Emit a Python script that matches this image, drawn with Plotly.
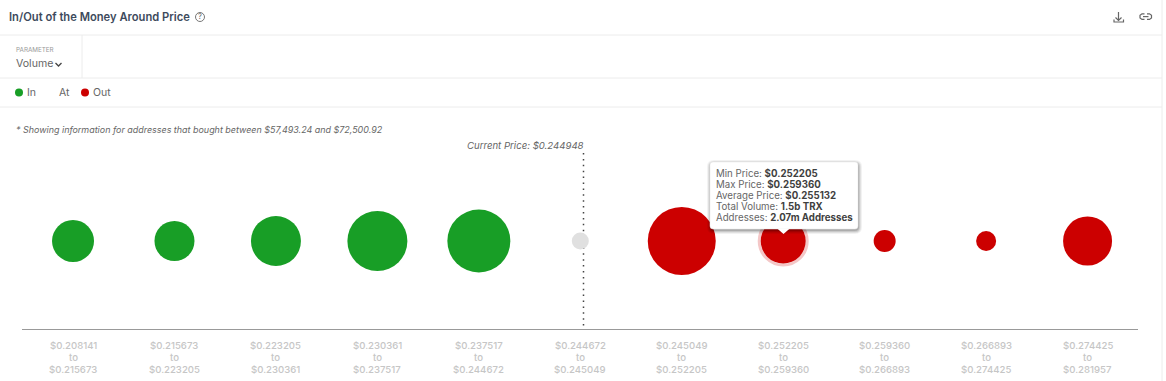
import plotly.graph_objects as go

W, H = 1166, 381

range_from = ["$0.208141", "$0.215673", "$0.223205", "$0.230361", "$0.237517", "$0.244672",
              "$0.245049", "$0.252205", "$0.259360", "$0.266893", "$0.274425"]
range_to = ["$0.215673", "$0.223205", "$0.230361", "$0.237517", "$0.244672", "$0.245049",
            "$0.252205", "$0.259360", "$0.266893", "$0.274425", "$0.281957"]
categories = [a + " to " + b for a, b in zip(range_from, range_to)]

in_cats = categories[:5]
in_volume = [42, 40, 50, 60, 63]
at_cats = categories[5:6]
at_volume = [17]
out_cats = categories[6:]
out_volume = [68, 45, 22, 20, 49]
active_cat = categories[7]

tooltip_rows = [("Min Price: ", "$0.252205"), ("Max Price: ", "$0.259360"),
                ("Average Price: ", "$0.255132"), ("Total Volume: ", "1.5b TRX"),
                ("Addresses: ", "2.07m Addresses")]

GREEN, RED, GREY = "#189e26", "#cc0000", "#e0e0e0"
RULE = "#ececec"
FONT = "Inter"


def fx(x):
    return x / W


def fy(y):
    return 1 - y / H


def path(points, close=False):
    d = " ".join(("M" if i == 0 else "L") + f"{fx(x):.5f},{fy(y):.5f}" for i, (x, y) in enumerate(points))
    return d + (" Z" if close else "")


def rrect(x0, y0, x1, y1, r):
    return (f"M{fx(x0+r):.5f},{fy(y0):.5f} L{fx(x1-r):.5f},{fy(y0):.5f} "
            f"Q{fx(x1):.5f},{fy(y0):.5f} {fx(x1):.5f},{fy(y0+r):.5f} "
            f"L{fx(x1):.5f},{fy(y1-r):.5f} Q{fx(x1):.5f},{fy(y1):.5f} {fx(x1-r):.5f},{fy(y1):.5f} "
            f"L{fx(x0+r):.5f},{fy(y1):.5f} Q{fx(x0):.5f},{fy(y1):.5f} {fx(x0):.5f},{fy(y1-r):.5f} "
            f"L{fx(x0):.5f},{fy(y0+r):.5f} Q{fx(x0):.5f},{fy(y0):.5f} {fx(x0+r):.5f},{fy(y0):.5f} Z")


shapes, annotations = [], []


def line(x0, y0, x1, y1, color=RULE, width=1):
    shapes.append(dict(type="line", xref="paper", yref="paper", x0=fx(x0), y0=fy(y0), x1=fx(x1), y1=fy(y1),
                       line=dict(color=color, width=width), layer="below"))


def stroke(points, color="#666", width=1.2):
    shapes.append(dict(type="path", xref="paper", yref="paper", path=path(points),
                       line=dict(color=color, width=width), layer="above"))


def circle(cx, cy, r, fill, edge=None, width=0):
    shapes.append(dict(type="circle", xref="paper", yref="paper", x0=fx(cx-r), x1=fx(cx+r), y0=fy(cy+r), y1=fy(cy-r),
                       fillcolor=fill, line=dict(color=edge or "rgba(0,0,0,0)", width=width), layer="above"))


def label(x, y, text, size=11, color="#555", anchor="left", weight=None, style=None):
    font = dict(family=FONT, size=size, color=color)
    if weight:
        font["weight"] = weight
    if style:
        font["style"] = style
    annotations.append(dict(xref="paper", yref="paper", x=fx(x), y=fy(y), text=text,
                            showarrow=False, xanchor=anchor, yanchor="middle", borderpad=0, font=font))


# panel rules
line(0, 35, 1162, 35)
line(0, 78, 1162, 78)
line(0, 107, 1162, 107)
line(82, 35, 82, 78)
line(1162, 0, 1162, 381)

# header
label(8, 17, "In/Out of the Money Around Price", size=11.2, color="#3d4a5c", weight=600)
circle(200, 17, 4.5, "rgba(0,0,0,0)", "#777", 1)
label(200, 17, "?", size=7.5, color="#666", anchor="center")

# download icon
stroke([(1118.5, 12), (1118.5, 20)])
stroke([(1115.5, 17.5), (1118.5, 20.5), (1121.5, 17.5)])
stroke([(1114, 19.5), (1114, 22), (1123.5, 22), (1123.5, 19.5)])
# link icon
stroke([(1144.5, 13.8), (1142, 13.8), (1140, 15.2), (1140, 18), (1142, 19.4), (1144.5, 19.4)])
stroke([(1147, 13.8), (1149.5, 13.8), (1151.5, 15.2), (1151.5, 18), (1149.5, 19.4), (1147, 19.4)])
stroke([(1143, 16.6), (1148.5, 16.6)])

# parameter selector
label(15, 49.5, "PARAMETER", size=6.3, color="#999")
label(15, 63.5, "Volume", size=10.6, color="#666")
stroke([(55.5, 63), (58.5, 66), (61.5, 63)], color="#444", width=1.3)

# legend
circle(19, 92.5, 4, GREEN)
label(25.5, 92.5, "In", size=10.5, color="#666")
label(58, 92.5, "At", size=10.5, color="#666")
circle(85, 92.5, 4, RED)
label(91.5, 92.5, "Out", size=10.5, color="#666")

# note
label(15, 129, "* Showing information for addresses that bought between $57,493.24 and $72,500.92",
      size=8.95, color="#666", style="italic")

# current price
label(585, 145, "Current Price: $0.244948", size=9.6, color="#666", anchor="right", style="italic")
shapes.append(dict(type="line", xref="paper", yref="paper", x0=fx(583.5), x1=fx(583.5), y0=fy(153), y1=fy(329),
                   line=dict(color="#444", width=1.5, dash="1.5px,4.4px"), layer="below"))

# tooltip
for off, alpha in [(4, .05), (3, .07), (2, .10), (1, .14)]:
    shapes.append(dict(type="path", xref="paper", yref="paper", layer="above",
                       path=rrect(710 - off + 1, 162 - off + 2, 858 + off, 229 + off + 1, 3 + off),
                       fillcolor=f"rgba(0,0,0,{alpha})", line=dict(width=0)))
shapes.append(dict(type="path", xref="paper", yref="paper", layer="above", path=rrect(710, 162, 858, 229, 3),
                   fillcolor="#ffffff", line=dict(color="#e6e6e6", width=0.5)))
shapes.append(dict(type="path", xref="paper", yref="paper", layer="above",
                   path=path([(777.5, 228.8), (783.5, 234), (789.5, 228.8)], close=True),
                   fillcolor="#ffffff", line=dict(width=0)))
for i, (k, v) in enumerate(tooltip_rows):
    label(715, 173.5 + i * 11, f'{k}<b><span style="color:#3f3f3f">{v}</span></b>', size=9.7, color="#666")

# range labels below the axis, placed on the category axis
for c, a, b in zip(categories, range_from, range_to):
    for y, t in ((345, a), (357, "to"), (369, b)):
        annotations.append(dict(xref="x", yref="paper", x=c, y=fy(y), text=t, showarrow=False,
                                xanchor="center", yanchor="middle", borderpad=0,
                                font=dict(family=FONT, size=9.6, color="#c6c6c6", weight=500)))

fig = go.Figure()
fig.add_trace(go.Scatter(x=[active_cat], y=[0], mode="markers", showlegend=False, hoverinfo="skip",
                         marker=dict(size=48, color="rgba(0,0,0,0)", opacity=1,
                                     line=dict(color="rgba(204,0,0,0.22)", width=3))))
for name, xs, vals, col in (("In", in_cats, in_volume, GREEN), ("At", at_cats, at_volume, GREY),
                            ("Out", out_cats, out_volume, RED)):
    fig.add_trace(go.Scatter(x=xs, y=[0] * len(xs), mode="markers", name=name, showlegend=False,
                             marker=dict(size=vals, sizemode="diameter", color=col, opacity=1, line=dict(width=0))))

fig.update_layout(
    width=W, height=H, autosize=False, margin=dict(l=0, r=0, t=0, b=0),
    paper_bgcolor="#ffffff", plot_bgcolor="#ffffff", showlegend=False,
    font=dict(family=FONT),
    xaxis=dict(type="category", categoryorder="array", categoryarray=categories,
               domain=[fx(22.3), fx(1138.3)], range=[-0.5, 10.5], showgrid=False, zeroline=False,
               showticklabels=False, ticks="", showline=True, linecolor="#999999", linewidth=1,
               anchor="y", fixedrange=True),
    yaxis=dict(domain=[fy(329), fy(153)], range=[-1, 1], visible=False, fixedrange=True),
    shapes=shapes, annotations=annotations,
)
fig.write_html("out.html", config=dict(displayModeBar=False),
               post_script="document.body.style.margin='0';document.body.style.overflow='hidden';")
